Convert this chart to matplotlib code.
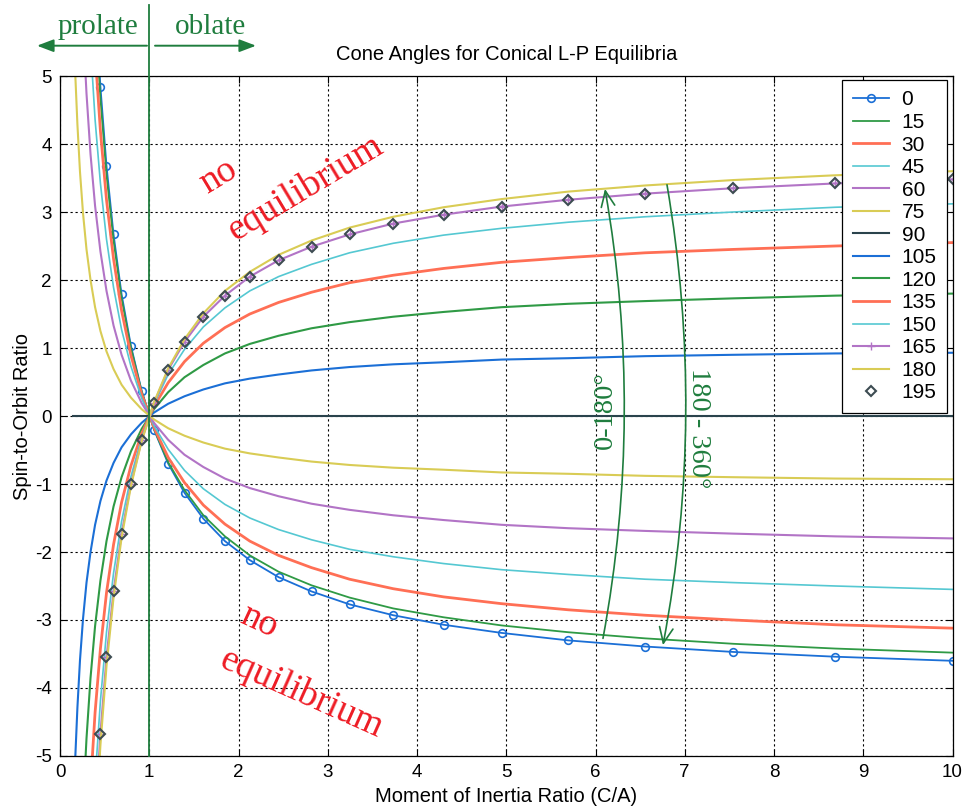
import matplotlib
matplotlib.use('Agg')
import matplotlib.pyplot as plt
from matplotlib.patches import FancyArrowPatch

plt.rcParams['axes.unicode_minus'] = False

# ---------------- data ----------------
ratio = [0.147, 0.169, 0.195, 0.224, 0.258, 0.297, 0.342, 0.393, 0.453, 0.521,
         0.600, 0.690, 0.795, 0.915, 1.053, 1.212, 1.395, 1.606, 1.848, 2.127,
         2.449, 2.818, 3.244, 3.734, 4.298, 4.948, 5.695, 6.556, 7.546, 8.688, 10.0]

s0 = [23.23, 19.65, 16.56, 13.86, 11.51, 9.48, 7.71, 6.17, 4.84, 3.68, 2.67, 1.79, 1.03, 0.37,
      -0.20, -0.70, -1.13, -1.51, -1.84, -2.12, -2.37, -2.58, -2.77, -2.93, -3.07, -3.19,
      -3.30, -3.39, -3.47, -3.54, -3.60]
s15 = [22.44, 18.99, 15.99, 13.38, 11.12, 9.15, 7.45, 5.96, 4.67, 3.55, 2.58, 1.73, 1.00, 0.36,
       -0.19, -0.68, -1.09, -1.46, -1.77, -2.05, -2.29, -2.49, -2.67, -2.83, -2.96, -3.08,
       -3.18, -3.27, -3.35, -3.42, -3.48]
s30 = [20.12, 17.02, 14.34, 12.00, 9.97, 8.21, 6.68, 5.35, 4.19, 3.18, 2.31, 1.55, 0.89, 0.32,
       -0.17, -0.61, -0.98, -1.31, -1.59, -1.84, -2.05, -2.23, -2.40, -2.54, -2.66, -2.76,
       -2.85, -2.93, -3.00, -3.07, -3.12]
s45 = [16.42, 13.90, 11.71, 9.80, 8.14, 6.70, 5.45, 4.36, 3.42, 2.60, 1.89, 1.27, 0.73, 0.26,
       -0.14, -0.49, -0.80, -1.07, -1.30, -1.50, -1.67, -1.82, -1.96, -2.07, -2.17, -2.26,
       -2.33, -2.40, -2.45, -2.50, -2.55]
s60 = [11.61, 9.83, 8.28, 6.93, 5.75, 4.74, 3.85, 3.09, 2.42, 1.84, 1.33, 0.90, 0.52, 0.19,
       -0.10, -0.35, -0.57, -0.75, -0.92, -1.06, -1.18, -1.29, -1.38, -1.46, -1.53, -1.60,
       -1.65, -1.69, -1.73, -1.77, -1.80]
s75 = [6.01, 5.09, 4.29, 3.59, 2.98, 2.45, 2.00, 1.60, 1.25, 0.95, 0.69, 0.46, 0.27, 0.10,
       -0.05, -0.18, -0.29, -0.39, -0.48, -0.55, -0.61, -0.67, -0.72, -0.76, -0.79, -0.83,
       -0.85, -0.88, -0.90, -0.92, -0.93]
s90 = [0.0, 0.0, 0.0, 0.0, 0.0, 0.0, 0.0, 0.0, 0.0, 0.0, 0.0, 0.0, 0.0, 0.0, 0.0, 0.0,
       0.0, 0.0, 0.0, 0.0, 0.0, 0.0, 0.0, 0.0, 0.0, 0.0, 0.0, 0.0, 0.0, 0.0, 0.0]
s105 = [-6.01, -5.09, -4.29, -3.59, -2.98, -2.45, -2.00, -1.60, -1.25, -0.95, -0.69, -0.46, -0.27, -0.10,
        0.05, 0.18, 0.29, 0.39, 0.48, 0.55, 0.61, 0.67, 0.72, 0.76, 0.79, 0.83,
        0.85, 0.88, 0.90, 0.92, 0.93]
s120 = [-11.61, -9.83, -8.28, -6.93, -5.75, -4.74, -3.85, -3.09, -2.42, -1.84, -1.33, -0.90, -0.52, -0.19,
        0.10, 0.35, 0.57, 0.75, 0.92, 1.06, 1.18, 1.29, 1.38, 1.46, 1.53, 1.60,
        1.65, 1.69, 1.73, 1.77, 1.80]
s135 = [-16.42, -13.90, -11.71, -9.80, -8.14, -6.70, -5.45, -4.36, -3.42, -2.60, -1.89, -1.27, -0.73, -0.26,
        0.14, 0.49, 0.80, 1.07, 1.30, 1.50, 1.67, 1.82, 1.96, 2.07, 2.17, 2.26,
        2.33, 2.40, 2.45, 2.50, 2.55]
s150 = [-20.12, -17.02, -14.34, -12.00, -9.97, -8.21, -6.68, -5.35, -4.19, -3.18, -2.31, -1.55, -0.89, -0.32,
        0.17, 0.61, 0.98, 1.31, 1.59, 1.84, 2.05, 2.23, 2.40, 2.54, 2.66, 2.76,
        2.85, 2.93, 3.00, 3.07, 3.12]
s165 = [-22.44, -18.99, -15.99, -13.38, -11.12, -9.15, -7.45, -5.96, -4.67, -3.55, -2.58, -1.73, -1.00, -0.36,
        0.19, 0.68, 1.09, 1.46, 1.77, 2.05, 2.29, 2.49, 2.67, 2.83, 2.96, 3.08,
        3.18, 3.27, 3.35, 3.42, 3.48]
s180 = [-23.23, -19.65, -16.56, -13.86, -11.51, -9.48, -7.71, -6.17, -4.84, -3.68, -2.67, -1.79, -1.03, -0.37,
        0.20, 0.70, 1.13, 1.51, 1.84, 2.12, 2.37, 2.58, 2.77, 2.93, 3.07, 3.19,
        3.30, 3.39, 3.47, 3.54, 3.60]
s195 = [-22.44, -18.99, -15.99, -13.38, -11.12, -9.15, -7.45, -5.96, -4.67, -3.55, -2.58, -1.73, -1.00, -0.36,
        0.19, 0.68, 1.09, 1.46, 1.77, 2.05, 2.29, 2.49, 2.67, 2.83, 2.96, 3.08,
        3.18, 3.27, 3.35, 3.42, 3.48]

labels = ['0', '15', '30', '45', '60', '75', '90', '105', '120', '135', '150', '165', '180', '195']
series = [s0, s15, s30, s45, s60, s75, s90, s105, s120, s135, s150, s165, s180, s195]

x_ticks = [0, 1, 2, 3, 4, 5, 6, 7, 8, 9, 10]
y_ticks = [-5, -4, -3, -2, -1, 0, 1, 2, 3, 4, 5]

# ---------------- styles ----------------
BLUE = '#1b6fd6'
GREEN = '#2f9a45'
SALMON = '#ff6f55'
CYAN = '#55c8d2'
PURPLE = '#b274c6'
YELLOW = '#d9cc55'
DARK = '#2a434c'
GREY = '#3d4c52'

styles = [
    dict(color=BLUE, lw=1.3, marker='o', ms=5.5, mfc='none', mew=1.2),
    dict(color=GREEN, lw=1.3),
    dict(color=SALMON, lw=2.0),
    dict(color=CYAN, lw=1.2),
    dict(color=PURPLE, lw=1.5),
    dict(color=YELLOW, lw=1.5),
    dict(color=DARK, lw=1.5),
    dict(color=BLUE, lw=1.5),
    dict(color=GREEN, lw=1.5),
    dict(color=SALMON, lw=2.0),
    dict(color=CYAN, lw=1.2),
    dict(color=PURPLE, lw=1.5, marker='+', ms=6, mew=1.0),
    dict(color=YELLOW, lw=1.5),
    dict(color=GREY, ls='none', marker='D', ms=5, mfc='none', mew=1.5),
]

W, H = 967, 808
SANS = ['Liberation Sans', 'DejaVu Sans']
SERIF = ['Liberation Serif', 'DejaVu Serif']
GREEN_TXT = '#1f7d3e'
RED_TXT = '#ee1c25'

fig = plt.figure(figsize=(W / 100, H / 100), dpi=100)
ax = fig.add_axes([60 / W, 1 - 756 / H, 892.5 / W, 680 / H])


def fx(px):
    return px / W


def fy(py):
    return 1 - py / H


for lab, vals, st in zip(labels, series, styles):
    ax.plot(ratio, vals, label=lab, **st)

ax.set_xlim(0, 10)
ax.set_ylim(-5, 5)
ax.set_xticks(x_ticks)
ax.set_yticks(y_ticks)
ax.tick_params(direction='in', top=True, right=True, length=5, width=0.8,
               labelsize=13.5, pad=6)
for lbl in ax.get_xticklabels() + ax.get_yticklabels():
    lbl.set_family(SANS)
ax.grid(True, color='black', linestyle=(0, (2, 2.5)), linewidth=0.8)
for sp in ax.spines.values():
    sp.set_color('black')
    sp.set_linewidth(0.9)

ax.set_title('Cone Angles for Conical L-P Equilibria', family=SANS, fontsize=14.5, pad=11.5)
ax.set_xlabel('Moment of Inertia Ratio (C/A)', family=SANS, fontsize=14.5, labelpad=4)
ax.set_ylabel('Spin-to-Orbit Ratio', family=SANS, fontsize=14.5, labelpad=2)

leg = ax.legend(loc='upper right', bbox_to_anchor=(fx(947), fy(80)),
                bbox_transform=fig.transFigure, borderaxespad=0,
                prop={'family': SANS, 'size': 15}, labelspacing=0.17,
                handlelength=1.73, handletextpad=0.62, borderpad=0.5,
                fancybox=False, framealpha=1, edgecolor='black', numpoints=1)
leg.get_frame().set_linewidth(0.9)

# green vertical divider at C/A = 1, extending above the axes
ax.plot([1, 1], [-5, 6.04], color=GREEN_TXT, lw=1.3, clip_on=False, zorder=5)

# prolate / oblate
fig.text(fx(97.5), fy(34), 'prolate', family=SERIF, fontsize=21, color=GREEN_TXT,
         ha='center', va='baseline')
fig.text(fx(211), fy(34), 'oblate', family=SERIF, fontsize=21, color=GREEN_TXT,
         ha='center', va='baseline')
for a, b in [((fx(147), fy(45.7)), (fx(37), fy(45.7))),
             ((fx(155), fy(45.7)), (fx(256), fy(45.7)))]:
    fig.add_artist(FancyArrowPatch(a, b, transform=fig.transFigure,
                                   arrowstyle='-|>,head_length=1.0,head_width=0.38',
                                   mutation_scale=10, color=GREEN_TXT, lw=1.4,
                                   shrinkA=0, shrinkB=0))

# no equilibrium labels
fig.text(fx(218), fy(176), 'no', family=SERIF, fontsize=27, color=RED_TXT,
         rotation=31, ha='center', va='center')
fig.text(fx(306), fy(188), 'equilibrium', family=SERIF, fontsize=27, color=RED_TXT,
         rotation=31, ha='center', va='center')
fig.text(fx(259), fy(622), 'no', family=SERIF, fontsize=27, color=RED_TXT,
         rotation=-25, ha='center', va='center')
fig.text(fx(302), fy(694), 'equilibrium', family=SERIF, fontsize=27, color=RED_TXT,
         rotation=-24, ha='center', va='center')

# curved range arrows
ax.annotate('', xy=(6.106, 3.34), xytext=(6.084, -3.27),
            arrowprops=dict(arrowstyle='->,head_length=0.8,head_width=0.35', color=GREEN_TXT,
                            lw=1.2, connectionstyle='arc3,rad=0.09',
                            shrinkA=0, shrinkB=0, mutation_scale=14))
ax.annotate('', xy=(6.756, -3.37), xytext=(6.801, 3.40),
            arrowprops=dict(arrowstyle='->,head_length=0.8,head_width=0.35', color=GREEN_TXT,
                            lw=1.2, connectionstyle='arc3,rad=-0.09',
                            shrinkA=0, shrinkB=0, mutation_scale=14))
fig.text(fx(605), fy(410), '0-180\u00b0', family=SERIF, fontsize=20.5, color=GREEN_TXT,
         rotation=90, ha='center', va='center')
fig.text(fx(699), fy(428), '180 - 360\u00b0', family=SERIF, fontsize=20.5, color=GREEN_TXT,
         rotation=-90, ha='center', va='center')

fig.savefig('out.png', dpi=100)
